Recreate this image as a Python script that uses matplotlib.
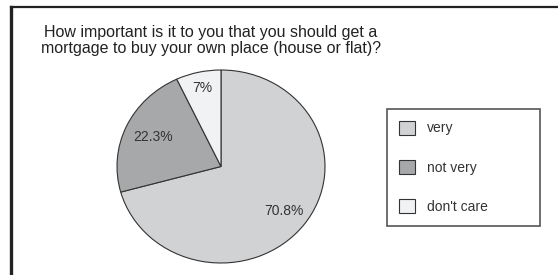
import matplotlib
matplotlib.use("Agg")
import matplotlib.pyplot as plt
from matplotlib.lines import Line2D
import numpy as np

# data
categories = ["very", "not very", "don't care"]
shares = [70.8, 22.3, 7.0]
pct_labels = ["70.8%", "22.3%", "7%"]
title = ("How important is it to you that you should get a\n"
         "mortgage to buy your own place (house or flat)?")

colours = ["#d1d2d4", "#a7a8aa", "#f1f2f4"]
label_dist = [0.76, 0.72, 0.83]   # how far out each % label sits

plt.rcParams["font.family"] = ["Liberation Sans", "DejaVu Sans"]

W, H = 558, 275
fig = plt.figure(figsize=(W / 100, H / 100), dpi=100)

# pie, slightly wider than tall like the original
cx, cy, rx, ry = 221, 166.5, 104, 96.5
ax = fig.add_axes([(cx - rx) / W, 1 - (cy + ry) / H, 2 * rx / W, 2 * ry / H])
wedges, _ = ax.pie(shares, colors=colours, startangle=90, counterclock=False,
                   wedgeprops=dict(edgecolor="#333333", linewidth=0.8))
ax.set_aspect("auto")
ax.set_xlim(-1, 1)
ax.set_ylim(-1, 1)

for w, txt, d in zip(wedges, pct_labels, label_dist):
    ang = np.deg2rad((w.theta1 + w.theta2) / 2)
    ax.text(d * np.cos(ang), d * np.sin(ang), txt, ha="center", va="center",
            fontsize=10, color="#333333")

fig.text(211 / W, 1 - 25 / H, title, ha="center", va="top", fontsize=11.5,
         color="#222222", linespacing=1.05)

leg = fig.legend(wedges, categories, loc="upper left",
                 bbox_to_anchor=(387 / W, 1 - 224 / H, 153 / W, 115 / H),
                 mode="expand", borderaxespad=0, fancybox=False,
                 fontsize=10, handlelength=1.2, handleheight=1.15,
                 handletextpad=0.8, labelspacing=1.78, borderpad=0.85,
                 edgecolor="#555555", framealpha=1, labelcolor="#333333")
leg.get_frame().set_linewidth(1.2)

# outer frame: top and left edges only
fig.add_artist(Line2D([11 / W, 1], [1 - 6.5 / H] * 2, color="#222222", lw=1.6))
fig.add_artist(Line2D([11 / W] * 2, [0, 1 - 6.5 / H], color="#222222", lw=2.4))

fig.savefig("out.png", dpi=100)
